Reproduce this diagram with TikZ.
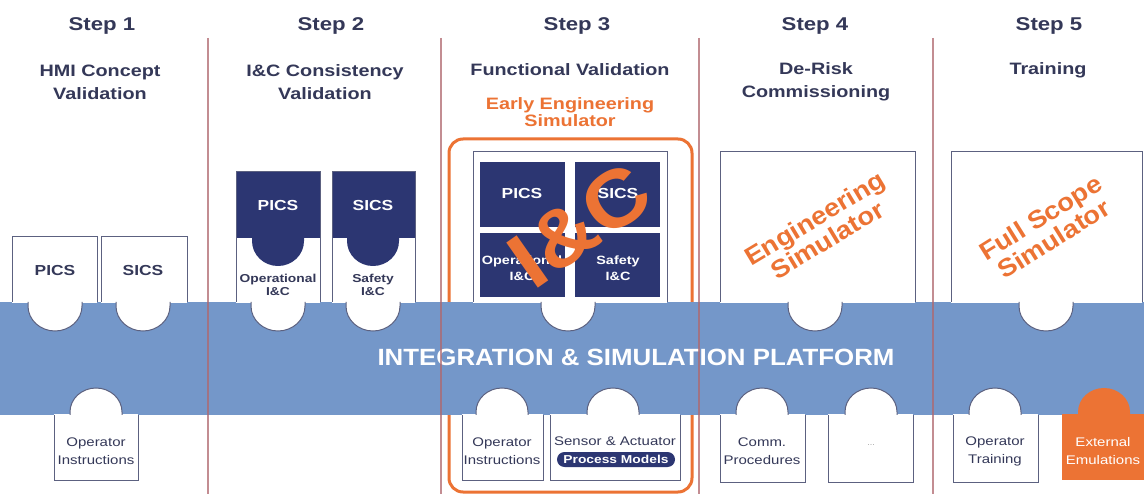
\documentclass[tikz,border=0pt]{standalone}
\usepackage{fontspec}
\setmainfont{Liberation Sans}
\newfontfamily\wideface[FakeStretch=1.2]{Liberation Sans}
\newfontfamily\bandface[FakeStretch=1.1]{Liberation Sans}

\definecolor{bandblue}{RGB}{116,151,201}
\definecolor{navy}{RGB}{44,54,114}
\definecolor{ink}{RGB}{52,56,88}
\definecolor{edgegrey}{RGB}{92,97,128}
\definecolor{accent}{RGB}{236,115,52}
\definecolor{divider}{RGB}{176,104,110}

\tikzset{
  pieceedge/.style={draw=edgegrey, line width=1pt},
  steptitle/.style={font=\wideface\bfseries\fontsize{18.5}{20}\selectfont, text=ink},
  subtitle/.style={font=\wideface\bfseries\fontsize{16.5}{23}\selectfont, text=ink, align=center},
  earlytitle/.style={font=\wideface\bfseries\fontsize{16.5}{17}\selectfont, text=accent, align=center},
  boxlabel/.style={font=\wideface\bfseries\fontsize{14.5}{16}\selectfont, text=ink},
  tilelabel/.style={font=\wideface\bfseries\fontsize{14.5}{16}\selectfont, text=white},
  smalllabel/.style={font=\wideface\bfseries\fontsize{11.5}{13}\selectfont, align=center},
  baselabel/.style={font=\wideface\fontsize{12.5}{18}\selectfont, text=ink, align=center},
  simlabel/.style={font=\bandface\bfseries\fontsize{25}{25}\selectfont, text=accent, align=center},
  dividerline/.style={draw=divider, line width=1.2pt, opacity=.75}
}

% a piece standing on the platform: left, right, top, bump centre
\newcommand\uppiece[4]{%
  \fill[white] (#1,#3) rectangle (#2,303);
  \fill[white] (#4-27,300) -- (#4-27,306)
    arc[start angle=180,end angle=0,x radius=27,y radius=25] -- (#4+27,300) -- cycle;
  \draw[pieceedge] (#1,302) -- (#1,#3) -- (#2,#3) -- (#2,302);
  \draw[pieceedge] (#4-27,302) -- (#4-27,306)
    arc[start angle=180,end angle=0,x radius=27,y radius=25] -- (#4+27,302);
}
% a piece hanging below the platform: left, right, bottom, bump centre, fill
\newcommand\downpiece[5]{%
  \fill[#5] (#1,414) rectangle (#2,#3);
  \fill[#5] (#4-26,416) -- (#4-26,412)
    arc[start angle=180,end angle=360,x radius=26,y radius=24] -- (#4+26,416) -- cycle;
}
\newcommand\downedge[5]{%
  \draw[draw=#5, line width=1pt] (#1,415) -- (#1,#3) -- (#2,#3) -- (#2,415);
  \draw[draw=#5, line width=1pt] (#4-26,415) -- (#4-26,412)
    arc[start angle=180,end angle=360,x radius=26,y radius=24] -- (#4+26,415);
}
% dark upper half of an I&C piece: left, right, top, bump centre
\newcommand\darkcap[4]{%
  \fill[navy] (#1,#3) rectangle (#2,238);
  \fill[navy] (#4-26,237) -- (#4-26,241)
    arc[start angle=180,end angle=0,x radius=26,y radius=25] -- (#4+26,237) -- cycle;
  \draw[pieceedge] (#1,302) -- (#1,#3) -- (#2,#3) -- (#2,302);
}

\begin{document}
\begin{tikzpicture}[x=1pt,y=-1pt]
\useasboundingbox (0,0) rectangle (1144,494);
\fill[white] (0,0) rectangle (1144,494);

% frame of the early engineering simulator
\draw[accent, line width=3pt, rounded corners=14pt] (449,139) rectangle (692,492);

% platform band
\fill[bandblue] (0,302) rectangle (1144,415);

% step 1 pieces
\uppiece{12}{97}{237}{55}
\uppiece{101}{187}{237}{143}
\downpiece{54}{138}{480}{96}{white}
\downedge{54}{138}{480}{96}{edgegrey}

% step 2 pieces
\uppiece{236}{320}{172}{278}
\darkcap{236}{320}{172}{278}
\uppiece{332}{415}{172}{373}
\darkcap{332}{415}{172}{373}

% step 3 pieces
\uppiece{473}{667}{152}{568}
\fill[navy] (480,162) rectangle (565,227);
\fill[navy] (575,162) rectangle (660,227);
\fill[navy] (480,233) rectangle (565,297);
\fill[navy] (575,233) rectangle (660,297);
\downpiece{462}{543}{480}{502}{white}
\downedge{462}{543}{480}{502}{edgegrey}
\downpiece{550}{680}{480}{613}{white}
\downedge{550}{680}{480}{613}{edgegrey}

% step 4 pieces
\uppiece{720}{915}{152}{815}
\downpiece{720}{805}{482}{762}{white}
\downedge{720}{805}{482}{762}{edgegrey}
\downpiece{828}{913}{482}{871}{white}
\downedge{828}{913}{482}{871}{edgegrey}

% step 5 pieces
\uppiece{951}{1142}{152}{1046}
\downpiece{953}{1038}{482}{995}{white}
\downedge{953}{1038}{482}{995}{edgegrey}
\downpiece{1062}{1144}{480}{1104}{accent}

% headings
\node[steptitle] (s1) at (102,26) {Step 1};
\node[steptitle] (s2) at (331,26) {Step 2};
\node[steptitle] (s3) at (577,26) {Step 3};
\node[steptitle] (s4) at (815,26) {Step 4};
\node[steptitle] (s5) at (1049,26) {Step 5};
\node[subtitle] (h1) at (100,82) {HMI Concept\\Validation};
\node[subtitle] (h2) at (325,82) {I\&C Consistency\\Validation};
\node[subtitle] (h3) at (570,70) {Functional Validation};
\node[earlytitle] (h3b) at (570,112) {Early Engineering\\Simulator};
\node[subtitle] (h4) at (816,82) {De-Risk\\Commissioning};
\node[subtitle] (h5) at (1048,70) {Training};

% piece labels
\node[boxlabel] (p1) at (55,271) {PICS};
\node[boxlabel] (q1) at (143,271) {SICS};
\node[baselabel] (o1) at (96,451) {Operator\\Instructions};

\node[tilelabel] (p2) at (278,206) {PICS};
\node[tilelabel] (q2) at (373,206) {SICS};
\node[smalllabel, text=ink] (op2) at (278,285) {Operational\\I\&C};
\node[smalllabel, text=ink] (sf2) at (373,285) {Safety\\I\&C};

\node[tilelabel] (p3) at (522,194) {PICS};
\node[tilelabel] (q3) at (618,194) {SICS};
\node[smalllabel, text=white, font=\wideface\bfseries\fontsize{12}{16}\selectfont] (op3) at (522,268) {Operational\\I\&C};
\node[smalllabel, text=white, font=\wideface\bfseries\fontsize{12}{16}\selectfont] (sf3) at (618,268) {Safety\\I\&C};
\node[baselabel] (o3) at (502,451) {Operator\\Instructions};
\node[baselabel] (sa3) at (615,441) {Sensor \& Actuator};
\node[smalllabel, text=white, fill=navy, rounded corners=7.5pt, minimum width=118pt,
      minimum height=15pt, inner sep=0pt] (pm3) at (616,459.5) {Process Models};

\node[simlabel, rotate=31] (es4) at (821,229) {Engineering\\Simulator};
\node[baselabel] (cp4) at (762,451) {Comm.\\Procedures};
\node[font=\fontsize{9}{10}\selectfont, text=gray!70] (dots4) at (871,445) {...};

\node[simlabel, rotate=32] (fs5) at (1047,228) {Full Scope\\Simulator};
\node[baselabel] (ot5) at (995,451) {Operator\\Training};
\node[baselabel, text=white] (ee5) at (1103,451) {External\\Emulations};

% platform title
\node[font=\bandface\bfseries\fontsize{23.5}{25}\selectfont, text=white] (plat) at (636,357)
  {INTEGRATION \& SIMULATION PLATFORM};

% I&C emblem across the step 3 tiles
\node[font=\bandface\bfseries\fontsize{80}{80}\selectfont, text=accent, rotate=35] (ic3) at (580,225) {I\&C};

% step dividers
\draw[dividerline] (208,38) -- (208,494);
\draw[dividerline] (441,38) -- (441,494);
\draw[dividerline] (699,38) -- (699,494);
\draw[dividerline] (933,38) -- (933,494);
\end{tikzpicture}
\end{document}
